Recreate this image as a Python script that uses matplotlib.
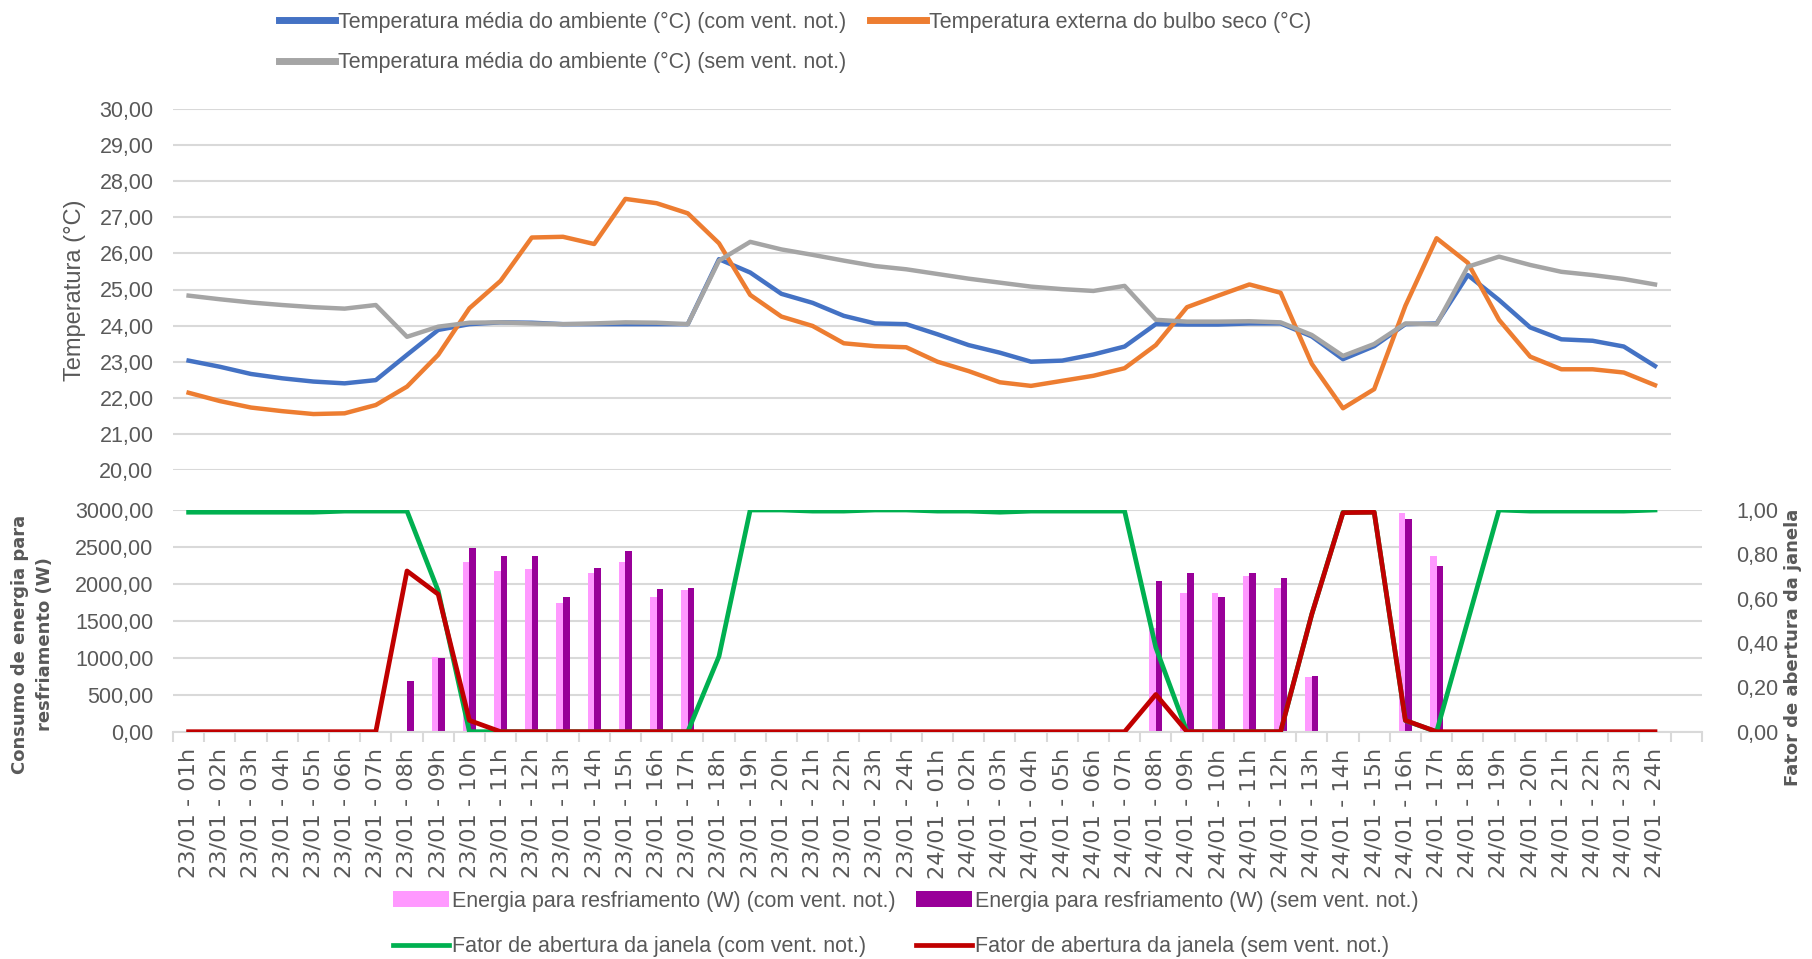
import matplotlib
matplotlib.use("Agg")
import matplotlib.pyplot as plt
from matplotlib import font_manager
from matplotlib.ticker import FuncFormatter, FixedLocator
import numpy as np

# fonts
names = set(f.name for f in font_manager.fontManager.ttflist)
narrow = 'Liberation Sans Narrow' if 'Liberation Sans Narrow' in names else 'Liberation Sans'

# data
horas = ["%02dh" % h for h in range(1, 25)]
labels = ["23/01 - " + h for h in horas] + ["24/01 - " + h for h in horas]

temp_com = [23.03, 22.86, 22.66, 22.54, 22.45, 22.40, 22.49, 23.19, 23.88, 24.04, 24.09, 24.08,
            24.04, 24.04, 24.04, 24.04, 24.04, 25.84, 25.47, 24.88, 24.63, 24.27, 24.06, 24.04,
            23.76, 23.46, 23.25, 23.00, 23.03, 23.20, 23.42, 24.04, 24.03, 24.03, 24.06, 24.06,
            23.70, 23.07, 23.43, 24.04, 24.06, 25.40, 24.71, 23.95, 23.62, 23.58, 23.42, 22.88]
temp_ext = [22.14, 21.91, 21.73, 21.63, 21.55, 21.57, 21.80, 22.31, 23.19, 24.48, 25.24, 26.44,
            26.46, 26.26, 27.51, 27.39, 27.11, 26.28, 24.85, 24.25, 23.99, 23.51, 23.43, 23.40,
            23.00, 22.74, 22.43, 22.33, 22.47, 22.61, 22.82, 23.46, 24.51, 24.83, 25.14, 24.91,
            22.94, 21.71, 22.24, 24.55, 26.42, 25.74, 24.16, 23.14, 22.79, 22.79, 22.70, 22.35]
temp_sem = [24.83, 24.73, 24.64, 24.57, 24.51, 24.47, 24.57, 23.69, 23.97, 24.08, 24.09, 24.06,
            24.04, 24.06, 24.09, 24.08, 24.04, 25.80, 26.32, 26.11, 25.96, 25.80, 25.65, 25.56,
            25.43, 25.30, 25.19, 25.08, 25.01, 24.96, 25.10, 24.16, 24.11, 24.11, 24.12, 24.09,
            23.74, 23.16, 23.49, 24.06, 24.04, 25.63, 25.91, 25.68, 25.49, 25.40, 25.29, 25.14]

energia_com = [0, 0, 0, 0, 0, 0, 0, 0, 1011, 2292, 2174, 2201,
               1746, 2152, 2292, 1827, 1917, 0, 0, 0, 0, 0, 0, 0,
               0, 0, 0, 0, 0, 0, 0, 1407, 1877, 1872, 2107, 1944,
               744, 0, 0, 2959, 2377, 0, 0, 0, 0, 0, 0, 0]
energia_sem = [0, 0, 0, 0, 0, 0, 0, 681, 997, 2490, 2373, 2382,
               1823, 2215, 2445, 1931, 1949, 0, 0, 0, 0, 0, 0, 0,
               0, 0, 0, 0, 0, 0, 0, 2035, 2152, 1823, 2152, 2075,
               758, 0, 0, 2883, 2242, 0, 0, 0, 0, 0, 0, 0]

fator_com = [0.99, 0.99, 0.99, 0.99, 0.99, 0.995, 0.995, 0.995, 0.635, 0.0, 0.0, 0.0,
             0.0, 0.0, 0.0, 0.0, 0.0, 0.34, 1.0, 1.0, 0.995, 0.995, 1.0, 1.0,
             0.995, 0.995, 0.99, 0.995, 0.995, 0.995, 0.995, 0.38, 0.0, 0.0, 0.0, 0.0,
             0.53, 0.99, 0.99, 0.05, 0.0, 0.5, 1.0, 0.995, 0.995, 0.995, 0.995, 1.0]
fator_sem = [0.0, 0.0, 0.0, 0.0, 0.0, 0.0, 0.0, 0.725, 0.62, 0.051, 0.0, 0.0,
             0.0, 0.0, 0.0, 0.0, 0.0, 0.0, 0.0, 0.0, 0.0, 0.0, 0.0, 0.0,
             0.0, 0.0, 0.0, 0.0, 0.0, 0.0, 0.0, 0.168, 0.0, 0.0, 0.0, 0.0,
             0.53, 0.988, 0.99, 0.051, 0.0, 0.0, 0.0, 0.0, 0.0, 0.0, 0.0, 0.0]

TXT = '#595959'
GRID = '#D9D9D9'
virg = FuncFormatter(lambda v, p: ("%.2f" % v).replace('.', ','))

x = np.arange(len(labels))
W, H = 1812, 959
fig = plt.figure(figsize=(W / 100, H / 100), dpi=100)

# ---- top chart (temperaturas)
ax1 = fig.add_axes([173 / W, 1 - 470 / H, 1497.6 / W, 361 / H])
l_com, = ax1.plot(x, temp_com, color='#4472C4', lw=3.2, solid_joinstyle='round')
l_ext, = ax1.plot(x, temp_ext, color='#ED7D31', lw=3.2, solid_joinstyle='round')
l_sem, = ax1.plot(x, temp_sem, color='#A5A5A5', lw=3.2, solid_joinstyle='round')
ax1.set_xlim(-0.5, 47.5)
ax1.set_ylim(20, 30)
ax1.set_yticks(np.arange(20, 31, 1))
ax1.yaxis.set_major_formatter(virg)
ax1.set_xticks([])
ax1.grid(axis='y', color=GRID, lw=1.5)
ax1.set_axisbelow(True)
for s in ax1.spines.values():
    s.set_visible(False)
ax1.tick_params(axis='y', length=0, pad=14, labelsize=15.5, labelcolor=TXT)
for t in ax1.get_yticklabels():
    t.set_family(narrow)
fig.text(75 / W, 1 - 290 / H, 'Temperatura (°C)', rotation=90, ha='center', va='center',
         fontsize=17, color=TXT, family='Liberation Sans')

# ---- bottom chart (energia + fator)
ax2 = fig.add_axes([173 / W, 1 - 731.7 / H, 1528.8 / W, 221.7 / H])
b1 = ax2.bar(x - 0.107, energia_com, width=0.214, color='#FF99FF', zorder=2)
b2 = ax2.bar(x + 0.107, energia_sem, width=0.214, color='#990099', zorder=2)
ax2.set_xlim(-0.5, 48.5)
ax2.set_ylim(0, 3000)
ax2.set_yticks(np.arange(0, 3001, 500))
ax2.yaxis.set_major_formatter(virg)
ax2.grid(axis='y', color=GRID, lw=1.5, zorder=0)
ax2.set_axisbelow(True)
for k, s in ax2.spines.items():
    s.set_visible(k == 'bottom')
ax2.spines['bottom'].set_color(GRID)
ax2.spines['bottom'].set_linewidth(1.5)
ax2.xaxis.set_major_locator(FixedLocator(x))
ax2.set_xticklabels(labels, rotation=90, fontsize=16.2, color=TXT)
ax2.xaxis.set_minor_locator(FixedLocator(np.arange(-0.5, 49, 1)))
ax2.tick_params(axis='x', which='major', length=0, pad=12)
ax2.tick_params(axis='x', which='minor', length=7, width=1.5, color=GRID)
ax2.tick_params(axis='y', length=0, pad=14, labelsize=15.5, labelcolor=TXT)
for t in ax2.get_yticklabels():
    t.set_family(narrow)

ax3 = ax2.twinx()
f1, = ax3.plot(x, fator_com, color='#00B050', lw=3.4, solid_joinstyle='round', zorder=3)
f2, = ax3.plot(x, fator_sem, color='#C00000', lw=3.4, solid_joinstyle='round', zorder=4)
ax3.set_ylim(0, 1)
ax3.set_yticks(np.arange(0, 1.01, 0.2))
ax3.yaxis.set_major_formatter(virg)
for s in ax3.spines.values():
    s.set_visible(False)
ax3.tick_params(axis='y', length=0, pad=25, labelsize=15.5, labelcolor=TXT)
for t in ax3.get_yticklabels():
    t.set_family(narrow)

fig.text(33 / W, 1 - 644 / H, 'Consumo de energia para\nresfriamento (W)', rotation=90,
         ha='center', va='center', fontsize=13, fontweight='bold', color=TXT, linespacing=1.5)
fig.text(1793 / W, 1 - 647 / H, 'Fator de abertura da janela', rotation=90,
         ha='center', va='center', fontsize=13, fontweight='bold', color=TXT)

# ---- legends
leg1 = fig.legend([l_com, l_sem, l_ext],
                  ['Temperatura média do ambiente (°C) (com vent. not.)',
                   'Temperatura média do ambiente (°C) (sem vent. not.)',
                   'Temperatura externa do bulbo seco (°C)'],
                  ncol=2, loc='upper left', bbox_to_anchor=(270 / W, 1 - 3 / H), borderaxespad=0,
                  frameon=False, handlelength=2.6, handletextpad=0.15, columnspacing=1.1,
                  labelspacing=0.9, prop={'family': narrow, 'size': 15.5})
for t in leg1.get_texts():
    t.set_color(TXT)
for h in leg1.legend_handles:
    h.set_linewidth(5)

leg2 = fig.legend([b1, f1, b2, f2],
                  ['Energia para resfriamento (W) (com vent. not.)',
                   'Fator de abertura da janela (com vent. not.)',
                   'Energia para resfriamento (W) (sem vent. not.)',
                   'Fator de abertura da janela (sem vent. not.)'],
                  ncol=2, loc='upper left', bbox_to_anchor=(384 / W, 1 - 882 / H), borderaxespad=0,
                  frameon=False, handlelength=2.6, handleheight=0.75, handletextpad=0.15,
                  columnspacing=0.95, labelspacing=1.15, prop={'family': narrow, 'size': 15.5})
for t in leg2.get_texts():
    t.set_color(TXT)

fig.savefig('out.png', dpi=100)
